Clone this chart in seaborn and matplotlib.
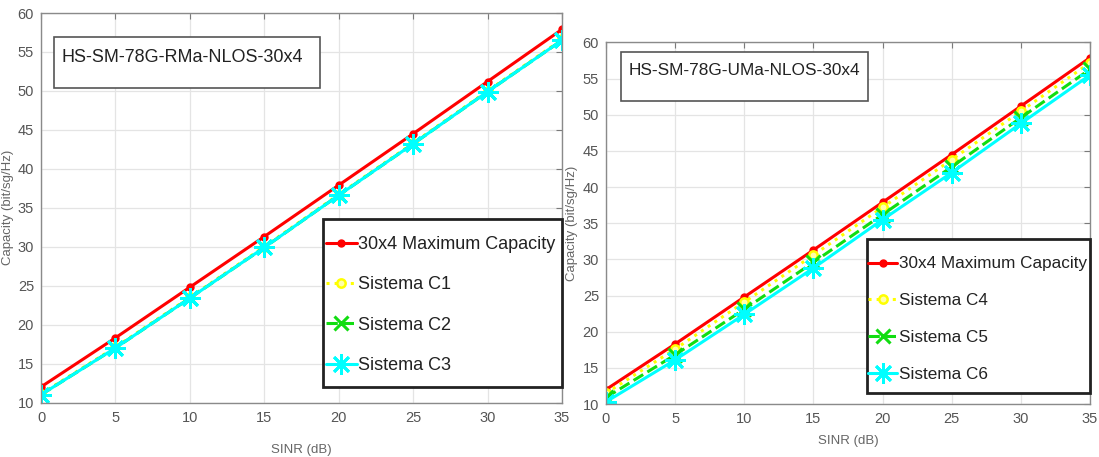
import numpy as np
import pandas as pd
import matplotlib
matplotlib.use("Agg")
import matplotlib.pyplot as plt
from matplotlib.patches import Rectangle
import seaborn as sns

sns.set_style("white")
plt.rcParams['font.family'] = ['Liberation Sans', 'DejaVu Sans']

# ---------------- data ----------------
sinr = [0, 5, 10, 15, 20, 25, 30, 35]

max_cap = [12.0, 18.3, 24.8, 31.3, 37.9, 44.5, 51.2, 57.9]

# Left panel (RMa)
c1 = [11.1, 17.1, 23.5, 30.0, 36.7, 43.3, 50.0, 56.6]
c2 = [11.0, 17.0, 23.4, 29.9, 36.6, 43.2, 49.9, 56.5]
c3 = [11.0, 17.0, 23.4, 29.9, 36.6, 43.2, 49.9, 56.5]

# Right panel (UMa)
c4 = [11.5, 17.6, 24.1, 30.6, 37.2, 43.8, 50.5, 57.2]
c5 = [10.9, 16.8, 23.1, 29.6, 36.2, 42.8, 49.6, 56.3]
c6 = [10.3, 16.1, 22.4, 28.8, 35.5, 42.0, 48.8, 55.5]

left_title = "HS-SM-78G-RMa-NLOS-30x4"
right_title = "HS-SM-78G-UMa-NLOS-30x4"
max_label = "30x4 Maximum Capacity"
left_labels = ["Sistema C1", "Sistema C2", "Sistema C3"]
right_labels = ["Sistema C4", "Sistema C5", "Sistema C6"]
xticks = [0, 5, 10, 15, 20, 25, 30, 35]
yticks = [10, 15, 20, 25, 30, 35, 40, 45, 50, 55, 60]
xlabel = "SINR (dB)"
ylabel = "Capacity (bit/sg/Hz)"

# ---------------- styles ----------------
RED = "#ff0000"
YEL = "#ffff00"
GRN = "#11dd11"
CYA = "#00ffff"
ASTER = (8, 2, 0)

styles = [
    dict(color=RED, linestyle="-", marker="o", markersize=5, lw=2.2,
         markerfacecolor=RED, markeredgecolor=RED, markeredgewidth=1),
    dict(color=YEL, linestyle=":", marker="o", markersize=6, lw=2.2,
         markerfacecolor="#ffffaa", markeredgecolor=YEL, markeredgewidth=1.8),
    dict(color=GRN, linestyle="--", marker="x", markersize=10, lw=2.2,
         markeredgecolor=GRN, markeredgewidth=2.2),
    dict(color=CYA, linestyle="-", marker=ASTER, markersize=15, lw=2.2,
         markeredgecolor=CYA, markeredgewidth=2.0),
]

W, H = 1099, 457
fig = plt.figure(figsize=(W / 100, H / 100), dpi=100)
fig.patch.set_facecolor("white")


def px_axes(x0, x1, ytop, ybot):
    return fig.add_axes([x0 / W, 1 - ybot / H, (x1 - x0) / W, (ybot - ytop) / H])


def draw_panel(ax, series, labels, title, title_fs, box, frame, leg_anchor,
               leg_fs, leg_spacing, xlabelpad):
    all_series = [max_cap] + series
    all_labels = [max_label] + labels
    for ys, lab, st in zip(all_series, all_labels, styles):
        df = pd.DataFrame({"x": sinr, "y": ys})
        sns.lineplot(data=df, x="x", y="y", ax=ax, label=lab, **st)
    ax.set_xlim(0, 35)
    ax.set_ylim(10, 60)
    ax.set_xticks(xticks)
    ax.set_yticks(yticks)
    ax.grid(True, color="#e4e4e4", lw=0.9)
    ax.set_axisbelow(True)
    for sp in ax.spines.values():
        sp.set_color("#8a8a8a")
        sp.set_linewidth(1.0)
    ax.tick_params(direction="in", top=True, right=True, length=4,
                   width=0.8, color="#7a7a7a", labelsize=10.5,
                   labelcolor="#555555")
    ax.tick_params(axis="x", pad=6)
    ax.tick_params(axis="y", pad=5)
    ax.set_xlabel(xlabel, fontsize=9.5, color="#666666", labelpad=xlabelpad)
    ax.set_ylabel(ylabel, fontsize=9.5, color="#666666")
    # title box
    bx0, by0, bw, bh = box
    ax.add_patch(Rectangle((bx0, by0), bw, bh, transform=ax.transAxes,
                           fill=True, facecolor="white", edgecolor="#555555",
                           lw=1.2, zorder=5))
    ax.text(bx0 + 0.015, by0 + bh - 0.03, title, transform=ax.transAxes,
            ha="left", va="top", fontsize=title_fs, color="#222222", zorder=6)
    # legend frame
    fx0, fy0, fw, fh = frame
    ax.add_patch(Rectangle((fx0, fy0), fw, fh, transform=ax.transAxes,
                           fill=True, facecolor="white", edgecolor="#222222",
                           lw=2.0, zorder=9, clip_on=False))
    leg = ax.legend(loc="upper left", bbox_to_anchor=leg_anchor,
                    borderaxespad=0, fontsize=leg_fs, frameon=False,
                    handlelength=1.7, handletextpad=0.1,
                    labelspacing=leg_spacing, borderpad=0,
                    labelcolor="#222222")
    leg.set_zorder(10)


# left panel: axes px x 41..562, y 13..402.5
L = dict(x0=41, x1=562, yt=13, yb=402.5)
axL = px_axes(L["x0"], L["x1"], L["yt"], L["yb"])
lw_, lh_ = L["x1"] - L["x0"], L["yb"] - L["yt"]
draw_panel(axL, [c1, c2, c3], left_labels, left_title, 13,
           ((54 - 41) / lw_, (402.5 - 88) / lh_, (320 - 54) / lw_, (88 - 37) / lh_),
           ((322.7 - 41) / lw_, (402.5 - 386.7) / lh_, (561.5 - 322.7) / lw_, (386.7 - 219) / lh_),
           ((326 - 41) / lw_, (402.5 - 236) / lh_), 13, 1.29, 14)
axL.yaxis.set_label_coords(-0.052, 0.5)

# right panel: axes px x 606..1090, y 42.5..404
R = dict(x0=606, x1=1090, yt=42.5, yb=404)
axR = px_axes(R["x0"], R["x1"], R["yt"], R["yb"])
rw_, rh_ = R["x1"] - R["x0"], R["yb"] - R["yt"]
draw_panel(axR, [c4, c5, c6], right_labels, right_title, 12.4,
           ((621 - 606) / rw_, (404 - 101) / rh_, (868 - 621) / rw_, (101 - 52) / rh_),
           ((867 - 606) / rw_, (404 - 392.7) / rh_, (1089.5 - 867) / rw_, (392.7 - 239) / rh_),
           ((868 - 606) / rw_, (404 - 256.5) / rh_), 12.3, 1.28, 6)
axR.yaxis.set_label_coords(-0.058, 0.5)

fig.savefig("out.png", dpi=100, facecolor="white")
